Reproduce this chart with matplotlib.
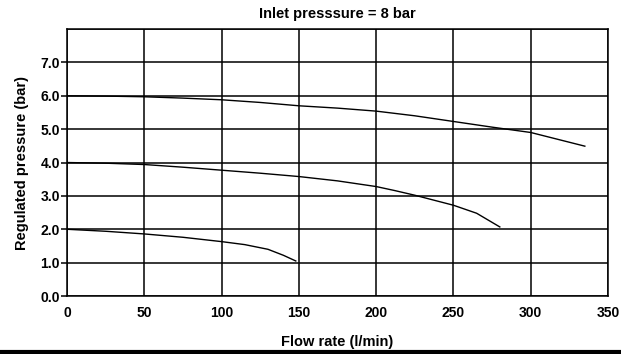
import matplotlib.pyplot as plt
from matplotlib.lines import Line2D

plt.rcParams["font.family"] = ["Liberation Sans", "DejaVu Sans"]
plt.rcParams["font.weight"] = "bold"

#----Kurvdata, flöde (l/min) och reglerat tryck (bar)
flow_6 = [0, 25, 50, 75, 100, 125, 150, 175, 200, 225, 250, 275, 300, 335]
pres_6 = [6.0, 5.99, 5.97, 5.93, 5.88, 5.8, 5.7, 5.63, 5.54, 5.4, 5.23, 5.06, 4.9, 4.49]

flow_4 = [0, 25, 50, 75, 100, 125, 150, 175, 200, 212, 225, 250, 265, 280]
pres_4 = [4.0, 3.98, 3.94, 3.86, 3.77, 3.68, 3.58, 3.45, 3.28, 3.16, 3.02, 2.72, 2.48, 2.07]

flow_2 = [0, 25, 50, 75, 100, 115, 130, 140, 148]
pres_2 = [2.0, 1.94, 1.86, 1.76, 1.63, 1.54, 1.4, 1.22, 1.05]

x_ticks = [0, 50, 100, 150, 200, 250, 300, 350]
y_ticks = [0, 1, 2, 3, 4, 5, 6, 7]
y_grid = [0, 1, 2, 3, 4, 5, 6, 7, 8]

fig = plt.figure(figsize=(6.21, 3.54), dpi=100)
ax = fig.add_axes([0.1079, 0.1638, 0.8712, 0.7542])

for gy in y_grid:
    ax.axhline(gy, color="black", lw=1.1, zorder=1)
for gx in x_ticks:
    ax.axvline(gx, color="black", lw=1.1, zorder=1)

ax.plot(flow_6, pres_6, color="black", lw=1.0, zorder=2)
ax.plot(flow_4, pres_4, color="black", lw=1.0, zorder=2)
ax.plot(flow_2, pres_2, color="black", lw=1.0, zorder=2)

ax.set_xlim(0, 350)
ax.set_ylim(0, 8)
ax.set_xticks(x_ticks)
ax.set_xticklabels([str(v) for v in x_ticks], fontsize=10, fontweight="bold")
ax.set_yticks(y_ticks)
ax.set_yticklabels([f"{v:.1f}" for v in y_ticks], fontsize=10, fontweight="bold")
ax.tick_params(axis="y", length=4, width=1.1, pad=1)
ax.tick_params(axis="x", length=0, pad=7)
for s in ax.spines.values():
    s.set_linewidth(1.1)

ax.set_title("Inlet presssure = 8 bar", fontsize=10.5, fontweight="bold", pad=8)
ax.set_xlabel("Flow rate (l/min)", fontsize=10.5, fontweight="bold", labelpad=11)
ax.set_ylabel("Regulated pressure (bar)", fontsize=10.5, fontweight="bold", labelpad=8)

#----Tjock linje längst ner
fig.add_artist(Line2D([0, 1], [0.005, 0.005], transform=fig.transFigure,
                      color="black", lw=3))

fig.savefig("out.png", dpi=100)
